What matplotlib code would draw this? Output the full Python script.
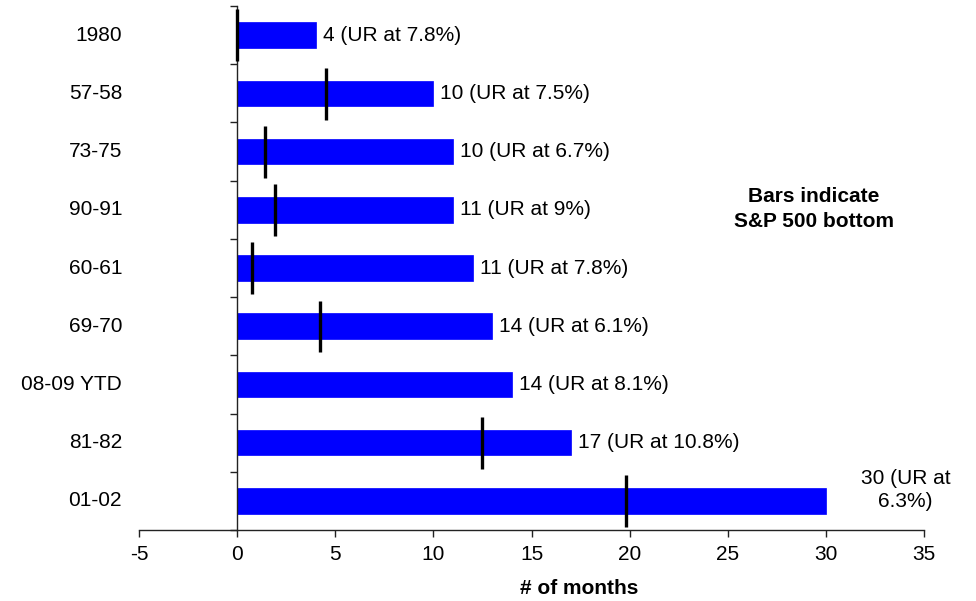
import matplotlib
matplotlib.use('Agg')
import matplotlib.pyplot as plt
import numpy as np

plt.rcParams['font.family'] = ['Liberation Sans', 'DejaVu Sans']
plt.rcParams['axes.unicode_minus'] = False

periods = ['1980', '57-58', '73-75', '90-91', '60-61', '69-70', '08-09 YTD', '81-82', '01-02']
months = [4, 10, 11, 11, 12, 13, 14, 17, 30]
sp_bottom = [0, 4.5, 1.4, 1.9, 0.75, 4.2, np.nan, 12.5, 19.8]
bar_labels = ['4 (UR at 7.8%)', '10 (UR at 7.5%)', '10 (UR at 6.7%)', '11 (UR at 9%)',
              '11 (UR at 7.8%)', '14 (UR at 6.1%)', '14 (UR at 8.1%)', '17 (UR at 10.8%)',
              '30 (UR at\n6.3%)']
xticks = [-5, 0, 5, 10, 15, 20, 25, 30, 35]

FS = 15

fig = plt.figure(figsize=(9.76, 6.01), dpi=100)
ax = fig.add_axes([139.3 / 976, 71 / 601, 784.4 / 976, 524 / 601])

y = np.arange(len(periods))
ax.barh(y, months, height=0.44, color='#0000FF', edgecolor='#0000FF', linewidth=0.5, zorder=2)

# S&P 500 bottom markers
ax.vlines(sp_bottom, y - 0.44, y + 0.45, color='black', linewidth=2.4, zorder=3)

ax.set_xlim(-5, 35)
ax.set_ylim(len(periods) - 0.5, -0.5)

ax.spines['top'].set_visible(False)
ax.spines['right'].set_visible(False)
ax.spines['left'].set_position(('data', 0))
for s in ['left', 'bottom']:
    ax.spines[s].set_color('#222222')
    ax.spines[s].set_linewidth(1.0)

ax.set_xticks(xticks)
ax.tick_params(axis='x', direction='out', length=5, width=1, colors='#222222',
               labelcolor='black', labelsize=FS, pad=6)
ax.set_yticks(np.arange(len(periods) + 1) - 0.5)
ax.set_yticklabels([])
ax.tick_params(axis='y', direction='out', length=5, width=1, colors='#222222')

# category labels on the far left
ytrans = ax.get_yaxis_transform()
for yi, name in zip(y, periods):
    ax.text(-0.022, yi, name, transform=ytrans, ha='right', va='center', fontsize=FS)

# value labels next to bars
for yi, m, lab in zip(y, months, bar_labels):
    if '\n' in lab:
        ax.annotate(lab, xy=(m, yi), xytext=(80, 11), textcoords='offset pixels',
                    ha='center', va='center', fontsize=FS, multialignment='center',
                    linespacing=1.3, annotation_clip=False)
    else:
        ax.annotate(lab, xy=(m, yi), xytext=(7, 0), textcoords='offset pixels',
                    ha='left', va='center', fontsize=FS)

ax.text(0.86, 0.6126, 'Bars indicate\nS&P 500 bottom', transform=ax.transAxes,
        ha='center', va='center', fontsize=FS, fontweight='bold', linespacing=1.4)

ax.text(0.5605, -0.1107, '# of months', transform=ax.transAxes, ha='center', va='center',
        fontsize=FS, fontweight='bold')

fig.savefig('out.png', dpi=100)
